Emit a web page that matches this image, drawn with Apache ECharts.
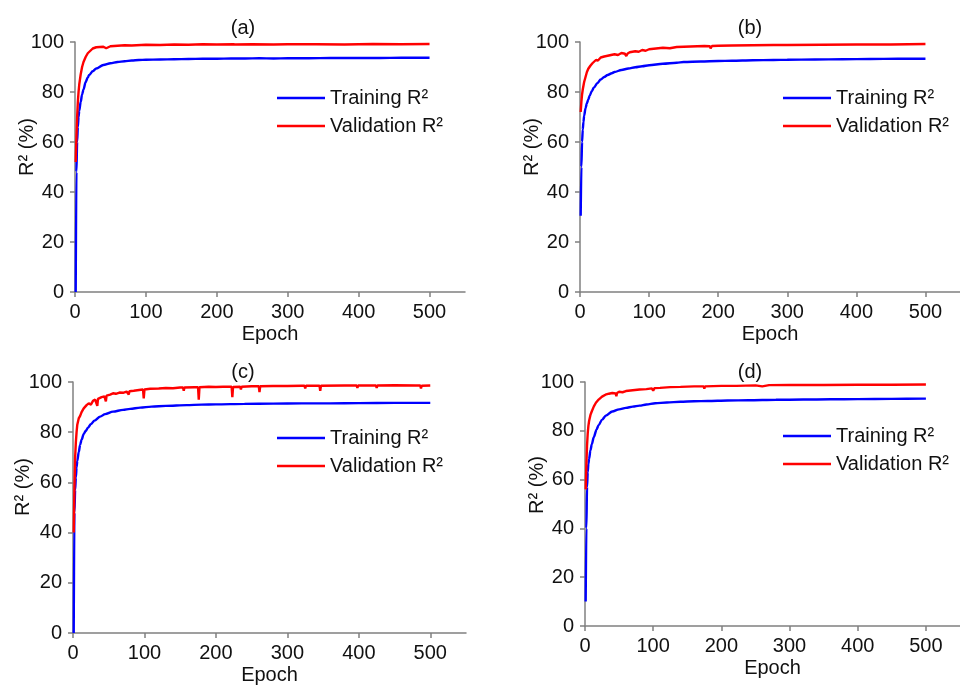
<!DOCTYPE html>
<html>
<head>
<meta charset="utf-8">
<script src="https://cdn.jsdelivr.net/npm/echarts@6/dist/echarts.min.js"></script>
<style>
  html, body { margin: 0; padding: 0; background: #fff; }
  #chart { width: 960px; height: 686px; }
</style>
</head>
<body>
<div id="chart"></div>
<script>
// [epoch, R2 %]
const aTraining = [[1,0],[2,48],[3,60],[4,66],[5,70],[6,72.5],[8,76],[10,79],[12,81],[15,84],[18,85.8],[20,86.8],[25,88.3],[30,89.4],[40,90.8],[50,91.5],[60,92],[70,92.3],[80,92.6],[90,92.8],[100,92.9],[120,93],[140,93.1],[160,93.2],[180,93.3],[200,93.3],[220,93.4],[240,93.4],[260,93.5],[280,93.4],[300,93.5],[330,93.5],[360,93.6],[400,93.6],[430,93.6],[460,93.7],[500,93.7]];
const aValidation = [[1,52],[2,62],[3,70],[4,76],[5,80],[6,83],[7,85],[8,87],[10,90],[12,92],[15,94],[18,95.5],[20,96.2],[25,97.4],[30,97.9],[40,98.1],[44,97.5],[46,98.2],[50,98.3],[60,98.5],[70,98.7],[80,98.6],[100,98.9],[120,98.8],[140,99],[160,98.9],[180,99.1],[200,99],[223,99.1],[224,98.5],[226,99],[250,99.1],[280,99],[300,99.1],[340,99.1],[380,99],[420,99.2],[460,99.1],[500,99.2]];

const bTraining = [[1,30.5],[2,50],[3,60],[4,65],[5,68],[6,70.5],[8,73.5],[10,75.5],[12,77],[14,78.5],[17,80.3],[20,81.7],[25,83.5],[30,85],[35,86],[40,86.8],[46,87.5],[50,88],[60,88.8],[70,89.4],[80,89.9],[90,90.3],[100,90.7],[120,91.3],[140,91.7],[150,92],[175,92.2],[200,92.4],[220,92.5],[250,92.7],[280,92.8],[300,92.9],[340,93],[380,93.1],[420,93.2],[460,93.3],[500,93.3]];
const bValidation = [[1,72],[2,76],[3,79],[4,81],[5,82.5],[6,84],[8,86],[10,88],[12,89.3],[15,90.5],[18,91.5],[20,92],[23,92.8],[26,92.6],[30,93.8],[35,94.2],[40,94.5],[45,94.8],[50,95.1],[55,94.8],[60,95.6],[65,95.3],[67,94.4],[69,95.4],[72,95.9],[80,96.3],[85,96.1],[90,96.8],[95,96.5],[100,97.1],[110,97.4],[120,97.7],[130,97.5],[140,98],[160,98.2],[180,98.4],[188,98.3],[189,97.4],[191,98.4],[200,98.5],[220,98.6],[250,98.7],[280,98.8],[300,98.8],[350,98.9],[400,99],[450,99],[500,99.2]];

const cTraining = [[1,0],[2,48],[3,57],[4,62],[5,66],[6,68.5],[8,72],[10,75],[12,77],[15,79.3],[18,80.6],[21,81.8],[25,83.2],[30,84.6],[38,86.2],[45,87.2],[56,88.2],[70,88.9],[80,89.3],[94,89.8],[110,90.2],[130,90.5],[159,90.8],[180,91],[200,91.1],[240,91.3],[280,91.4],[320,91.5],[360,91.5],[400,91.6],[450,91.7],[500,91.7]];
const cValidation = [[1,40],[2,58],[3,70],[4,76],[5,80],[6,83],[8,85.5],[10,86.5],[12,88],[15,89.5],[19,90.8],[22,91.5],[25,91],[28,92.5],[31,93],[33,93],[34,90.5],[35,93.3],[40,94],[44,94.3],[45,94.3],[46,92.3],[47,94.6],[52,95],[56,95.5],[60,95.3],[65,95.8],[70,95.7],[75,96.2],[77,96.2],[78,95],[79,96.3],[85,96.5],[90,96.7],[95,96.9],[98,97],[99,93.5],[100,97],[108,97.3],[120,97.4],[130,97.6],[140,97.5],[150,97.8],[154,97.8],[155,96.5],[156,97.8],[170,97.9],[175,97.9],[176,93],[177,97.9],[190,98.1],[200,98],[210,98.1],[222,98.1],[223,94],[224,98],[234,98.1],[235,97],[236,98.1],[250,98.3],[260,98.3],[261,96],[262,98.3],[280,98.4],[300,98.4],[320,98.5],[324,98.5],[325,97.4],[326,98.5],[345,98.5],[346,96.5],[347,98.5],[380,98.6],[397,98.6],[398,97.7],[399,98.6],[424,98.6],[425,97.6],[426,98.6],[450,98.7],[480,98.6],[486,98.6],[487,97.4],[488,98.5],[500,98.6]];

const dTraining = [[1,10],[2,40],[3,57],[4,63],[5,66.5],[6,68.5],[8,72],[10,74.5],[13,77.5],[17,80.6],[20,82.3],[25,84.6],[31,86.3],[40,87.9],[50,88.8],[60,89.4],[70,89.9],[80,90.3],[90,90.8],[103,91.3],[120,91.6],[140,91.9],[160,92.1],[180,92.2],[209,92.4],[240,92.5],[280,92.7],[320,92.8],[360,92.9],[400,93],[450,93.1],[500,93.2]];
const dValidation = [[1,56],[2,66],[3,74],[4,79],[5,82],[6,84],[8,86.5],[10,88],[13,90],[16,91.5],[20,92.8],[22,93.3],[25,94],[30,94.8],[35,95.2],[40,95.5],[45,95.3],[46,94.2],[47,95.5],[50,96],[55,95.8],[60,96.3],[70,96.6],[80,96.9],[90,97.1],[98,97.4],[100,96.5],[102,97.5],[110,97.6],[125,97.9],[140,98],[160,98.2],[174,98.2],[175,97.3],[176,98.2],[200,98.4],[222,98.4],[223,97.6],[224,98.5],[250,98.6],[260,98.2],[270,98.7],[300,98.8],[350,98.8],[400,98.9],[450,98.9],[500,99]];

const panelTitles = ['(a)', '(b)', '(c)', '(d)'];
const epochTicks = [0, 100, 200, 300, 400, 500];
const seriesNames = ['Training R\u00b2', 'Validation R\u00b2'];

const panels = [
  { train: aTraining, valid: aValidation, grid: { left: 75, top: 42, width: 390, height: 250 }, titleX: 238, titleY: 13, legendX: 277, legendY: 88, nameX: 27, nameY: 147 },
  { train: bTraining, valid: bValidation, grid: { left: 580, top: 42, width: 393, height: 250 }, titleX: 745, titleY: 13, legendX: 783, legendY: 88, nameX: 532, nameY: 147 },
  { train: cTraining, valid: cValidation, grid: { left: 73, top: 382, width: 393, height: 251 }, titleX: 238, titleY: 357, legendX: 277, legendY: 428, nameX: 23, nameY: 487 },
  { train: dTraining, valid: dValidation, grid: { left: 585, top: 382, width: 382, height: 244 }, titleX: 745, titleY: 357, legendX: 783, legendY: 426, nameX: 537, nameY: 485 }
];

const font = 'Liberation Sans, Arial, sans-serif';
const axisGray = '#808080';

const chart = echarts.init(document.getElementById('chart'));

const option = {
  backgroundColor: '#ffffff',
  animation: false,
  textStyle: { fontFamily: font },
  title: [],
  legend: [],
  grid: [],
  xAxis: [],
  yAxis: [],
  series: [],
  graphic: []
};

panels.forEach((p, i) => {
  option.title.push({
    text: panelTitles[i],
    left: p.titleX,
    top: p.titleY,
    textAlign: 'center',
    textStyle: { fontFamily: font, fontSize: 20, fontWeight: 'normal', color: '#111' }
  });
  option.grid.push(p.grid);
  option.xAxis.push({
    type: 'value',
    gridIndex: i,
    min: 0,
    max: 550,
    interval: 100,
    name: 'Epoch',
    nameLocation: 'middle',
    nameGap: 32,
    nameTextStyle: { fontFamily: font, fontSize: 20, color: '#111' },
    axisLine: { lineStyle: { color: axisGray, width: 1.5 } },
    axisTick: { show: true, inside: false, length: 5, customValues: epochTicks, lineStyle: { color: axisGray, width: 1.5 } },
    axisLabel: { margin: 10, customValues: epochTicks, fontFamily: font, fontSize: 20, color: '#111' },
    splitLine: { show: false }
  });
  option.yAxis.push({
    type: 'value',
    gridIndex: i,
    min: 0,
    max: 100,
    interval: 20,
    axisLine: { show: true, lineStyle: { color: axisGray, width: 1.5 } },
    axisTick: { show: true, inside: false, length: 5, lineStyle: { color: axisGray, width: 1.5 } },
    axisLabel: { margin: 11, fontFamily: font, fontSize: 20, color: '#111' },
    splitLine: { show: false }
  });
  option.series.push({
    name: seriesNames[0],
    type: 'line',
    xAxisIndex: i,
    yAxisIndex: i,
    data: p.train,
    showSymbol: false,
    symbol: 'none',
    smooth: 0.3,
    smoothMonotone: 'x',
    lineStyle: { color: '#0000ff', width: 2.4 },
    itemStyle: { color: '#0000ff' }
  });
  option.series.push({
    name: seriesNames[1],
    type: 'line',
    xAxisIndex: i,
    yAxisIndex: i,
    data: p.valid,
    showSymbol: false,
    symbol: 'none',
    lineStyle: { color: '#ff0000', width: 2.4 },
    itemStyle: { color: '#ff0000' }
  });
  option.legend.push({
    data: seriesNames,
    orient: 'vertical',
    left: p.legendX,
    top: p.legendY,
    icon: 'rect',
    itemWidth: 48,
    itemHeight: 2.5,
    itemGap: 8,
    padding: 0,
    selectedMode: false,
    textStyle: { fontFamily: font, fontSize: 20, lineHeight: 20, color: '#111', padding: [0, 0, 0, 0] }
  });
  option.graphic.push({
    type: 'text',
    x: p.nameX,
    y: p.nameY,
    rotation: Math.PI / 2,
    style: {
      text: 'R\u00b2 (%)',
      font: '20px ' + font,
      fill: '#111',
      align: 'center',
      verticalAlign: 'middle'
    }
  });
});

chart.setOption(option);
</script>
</body>
</html>
